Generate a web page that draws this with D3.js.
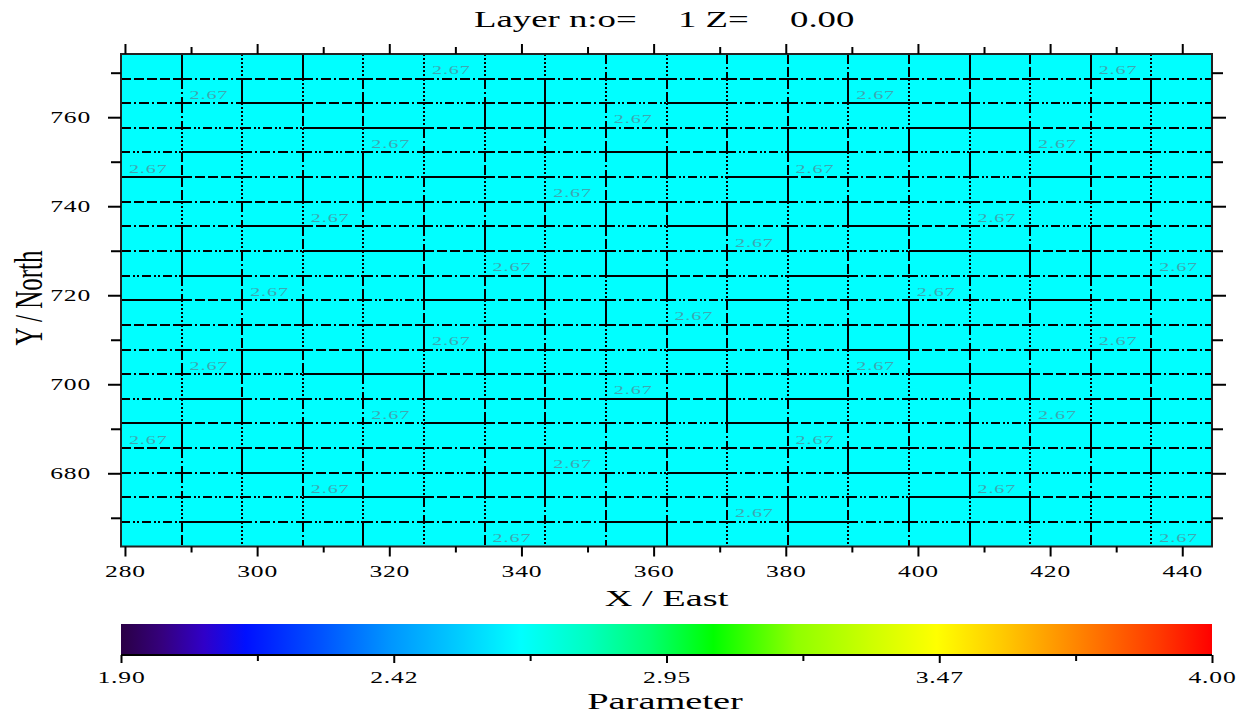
<!DOCTYPE html>
<html><head><meta charset="utf-8">
<script src="https://cdn.jsdelivr.net/npm/d3@7"></script>
<style>body{margin:0;background:#fff}svg{display:block}</style>
</head><body><svg id="c" width="1241" height="716"></svg>
<script>
// ---- data ----
const colEdges = [279.40,288.57,297.74,306.92,316.09,325.26,334.43,343.60,352.78,361.95,371.12,380.29,389.46,398.64,407.81,416.98,426.15,435.32,444.50];
const rowEdges = [663.55,669.08,674.62,680.15,685.68,691.21,696.75,702.28,707.81,713.34,718.88,724.41,729.94,735.47,741.01,746.54,752.07,757.60,763.14,768.67,774.20];
const blockValue = 2.67;
// labelled blocks: [row counted from top, column counted from left]
const labelCells = [[0,5],[0,16],[1,1],[1,12],[2,8],[3,4],[3,15],[4,0],[4,11],[5,7],[6,3],[6,14],[7,10],[8,6],[8,17],[9,2],[9,13],[10,9],[11,5],[11,16],[12,1],[12,12],[13,8],[14,4],[14,15],[15,0],[15,11],[16,7],[17,3],[17,14],[18,10],[19,6],[19,17]];
const xMajorTicks = [280,300,320,340,360,380,400,420,440];
const xMinorTicks = [290,310,330,350,370,390,410,430];
const yMajorTicks = [680,700,720,740,760];
const yMinorTicks = [670,690,710,730,750,770];
const cbarDomain = [1.90, 4.00];
const cbarMajorTicks = [1.90,2.425,2.95,3.475,4.00];
const cbarMajorLabels = ["1.90","2.42","2.95","3.47","4.00"];
const cbarMinorTicks = [2.1625,2.6875,3.2125,3.7375];
const colorStopValues = [1.90,1.98,2.06,2.14,2.28,2.42,2.55,2.67,2.80,2.92,3.04,3.20,3.34,3.47,3.60,3.70,3.80,3.90,4.00];
const colorStopColors = ["#2a0045","#35007e","#3000c8","#0010ff","#0050ff","#0096ff","#00ccff","#00ffff","#00ffc0","#00ff70","#00ff00","#90ff00","#ccff00","#ffff00","#ffc800","#ff9800","#ff6800","#ff3800","#ff0000"];
const titleParts = ["Layer n:o= ","1 Z= ","0.00"];
const xTitle = "X / East", yTitle = "Y / North", cbarTitle = "Parameter";

// ---- drawing ----
const svg = d3.select("#c");
const L = 121, R = 1212, T = 54, B = 546.5;
const SX = 1.6; // horizontal glyph stretch of the original
const x = d3.scaleLinear().domain([colEdges[0], colEdges[colEdges.length-1]]).range([L, R]);
const y = d3.scaleLinear().domain([rowEdges[0], rowEdges[rowEdges.length-1]]).range([B, T]);
const color = d3.scaleLinear().domain(colorStopValues).range(colorStopColors).clamp(true);
const serif = "'Liberation Serif','Times New Roman',serif";
const px = v => Math.round(x(v)), py = v => Math.round(y(v));

// cells
const cells = [];
for (let r = 0; r < rowEdges.length-1; r++) for (let c = 0; c < colEdges.length-1; c++) cells.push({r, c, v: blockValue});
svg.append("g").selectAll("rect").data(cells).join("rect")
  .attr("x", d => x(colEdges[d.c])).attr("width", d => x(colEdges[d.c+1]) - x(colEdges[d.c]) + 0.5)
  .attr("y", d => y(rowEdges[d.r+1])).attr("height", d => y(rowEdges[d.r]) - y(rowEdges[d.r+1]) + 0.5)
  .attr("fill", d => color(d.v));

// block edges with mixed pen styles
const dash = {solid:null, dash:"10,3", dot:"2,2", dashdot:"10,3,2,3", dashdotdot:"9,3,2,2,2,3"};
const hCycle = ["solid","dashdot","dashdotdot","dash","dashdot"];
const vCycle = ["dot","dot","solid","dash","dashdot"];
const segs = [];
for (let i = 1; i < rowEdges.length-1; i++) for (let c = 0; c < colEdges.length-1; c++)
  segs.push({x1:colEdges[c], x2:colEdges[c+1], y1:rowEdges[i], y2:rowEdges[i], s:hCycle[(i*2 + c*3 + Math.floor(c/2)*i) % 5]});
for (let j = 1; j < colEdges.length-1; j++) for (let r = 0; r < rowEdges.length-1; r++)
  segs.push({x1:colEdges[j], x2:colEdges[j], y1:rowEdges[r+1], y2:rowEdges[r], s:vCycle[(j*3 + r*2 + (j*r)%3) % 5]});
svg.append("g").attr("shape-rendering","crispEdges").selectAll("line").data(segs).join("line")
  .attr("x1", d => px(d.x1)).attr("x2", d => px(d.x2)).attr("y1", d => py(d.y1)).attr("y2", d => py(d.y2))
  .attr("stroke", "#000").attr("stroke-width", 2)
  .attr("stroke-dasharray", d => dash[d.s]);

// value labels
svg.append("g").selectAll("text").data(labelCells).join("text")
  .attr("transform", d => {
    const r = rowEdges.length-2-d[0], c = d[1];
    const cx = (x(colEdges[c]) + x(colEdges[c+1]))/2 - 3;
    const by = y(rowEdges[r]) - 4.5;
    return `translate(${cx},${by}) scale(${SX},1)`;
  })
  .attr("text-anchor","middle").attr("font-family", serif).attr("font-size", 12.5)
  .attr("letter-spacing", 0.6)
  .attr("fill", "#3fa6b0").text(d3.format(".2f")(blockValue));

// frame
svg.append("rect").attr("x", L).attr("y", T).attr("width", R-L).attr("height", B-T)
  .attr("fill","none").attr("stroke","#222").attr("stroke-width",2);

function styleAxis(g){ g.select(".domain").remove(); g.selectAll("line").attr("stroke","#000").attr("stroke-width",2); }
// bottom
svg.append("g").attr("transform",`translate(0,${B})`).call(d3.axisBottom(x).tickValues(xMinorTicks).tickSize(6).tickFormat("")).call(styleAxis);
const gb = svg.append("g").attr("transform",`translate(0,${B})`).call(d3.axisBottom(x).tickValues(xMajorTicks).tickSize(10)).call(styleAxis);
gb.selectAll("text").attr("x",null).attr("y",null).attr("dy",null)
  .attr("transform",`translate(0,30.5) scale(${SX},1)`).attr("font-family",serif).attr("font-size",16).attr("letter-spacing",0.5).attr("fill","#000").attr("text-anchor","middle");
// top
svg.append("g").attr("transform",`translate(0,${T})`).call(d3.axisTop(x).tickValues(xMinorTicks).tickSize(7).tickFormat("")).call(styleAxis);
svg.append("g").attr("transform",`translate(0,${T})`).call(d3.axisTop(x).tickValues(xMajorTicks).tickSize(10).tickFormat("")).call(styleAxis);
// left
svg.append("g").attr("transform",`translate(${L},0)`).call(d3.axisLeft(y).tickValues(yMinorTicks).tickSize(10).tickFormat("")).call(styleAxis);
const gl = svg.append("g").attr("transform",`translate(${L},0)`).call(d3.axisLeft(y).tickValues(yMajorTicks).tickSize(13)).call(styleAxis);
gl.selectAll("text").attr("x",null).attr("y",null).attr("dy",null)
  .attr("transform",`translate(-30,5.5) scale(${SX},1)`).attr("font-family",serif).attr("font-size",16).attr("letter-spacing",0.5).attr("fill","#000").attr("text-anchor","end");
// right
svg.append("g").attr("transform",`translate(${R},0)`).call(d3.axisRight(y).tickValues(yMinorTicks).tickSize(11).tickFormat("")).call(styleAxis);
svg.append("g").attr("transform",`translate(${R},0)`).call(d3.axisRight(y).tickValues(yMajorTicks).tickSize(14).tickFormat("")).call(styleAxis);

// title
const tx = [474, 678, 790];
const tt = svg.append("text").attr("transform",`translate(0,27) scale(${SX},1)`).attr("font-family",serif).attr("font-size",23).attr("fill","#000");
titleParts.forEach((p,i) => tt.append("tspan").attr("x", tx[i]/SX).text(p));

// axis titles
svg.append("text").attr("transform",`translate(${(L+R)/2},606) scale(${SX},1)`).attr("text-anchor","middle")
  .attr("font-family",serif).attr("font-size",24).attr("fill","#000").text(xTitle);
svg.append("text").attr("transform",`translate(42,298) scale(${SX},1) rotate(-90)`).attr("text-anchor","middle")
  .attr("font-family",serif).attr("font-size",25).attr("fill","#000").text(yTitle);

// colour bar
const cb = d3.scaleLinear().domain(cbarDomain).range([L, R]);
const grad = svg.append("defs").append("linearGradient").attr("id","cg").attr("x1","0%").attr("x2","100%");
grad.selectAll("stop").data(colorStopValues).join("stop")
  .attr("offset", v => ((v - cbarDomain[0])/(cbarDomain[1]-cbarDomain[0])*100) + "%")
  .attr("stop-color", (v,i) => colorStopColors[i]);
svg.append("rect").attr("x",L).attr("y",624).attr("width",R-L).attr("height",31).attr("fill","url(#cg)");
svg.append("line").attr("x1",L).attr("x2",R).attr("y1",655).attr("y2",655).attr("stroke","#000").attr("stroke-width",1.8);
svg.append("g").attr("transform","translate(0,655)").call(d3.axisBottom(cb).tickValues(cbarMinorTicks).tickSize(6).tickFormat("")).call(styleAxis);
const gc = svg.append("g").attr("transform","translate(0,655)").call(d3.axisBottom(cb).tickValues(cbarMajorTicks).tickSize(8).tickFormat((d,i)=>cbarMajorLabels[i])).call(styleAxis);
gc.selectAll("text").attr("x",null).attr("y",null).attr("dy",null)
  .attr("transform",`translate(0,28) scale(${SX},1)`).attr("font-family",serif).attr("font-size",16).attr("letter-spacing",0.5).attr("fill","#000").attr("text-anchor","middle");
svg.append("text").attr("transform",`translate(665,709) scale(${SX},1)`).attr("text-anchor","middle")
  .attr("font-family",serif).attr("font-size",24).attr("fill","#000").text(cbarTitle);
</script></body></html>
